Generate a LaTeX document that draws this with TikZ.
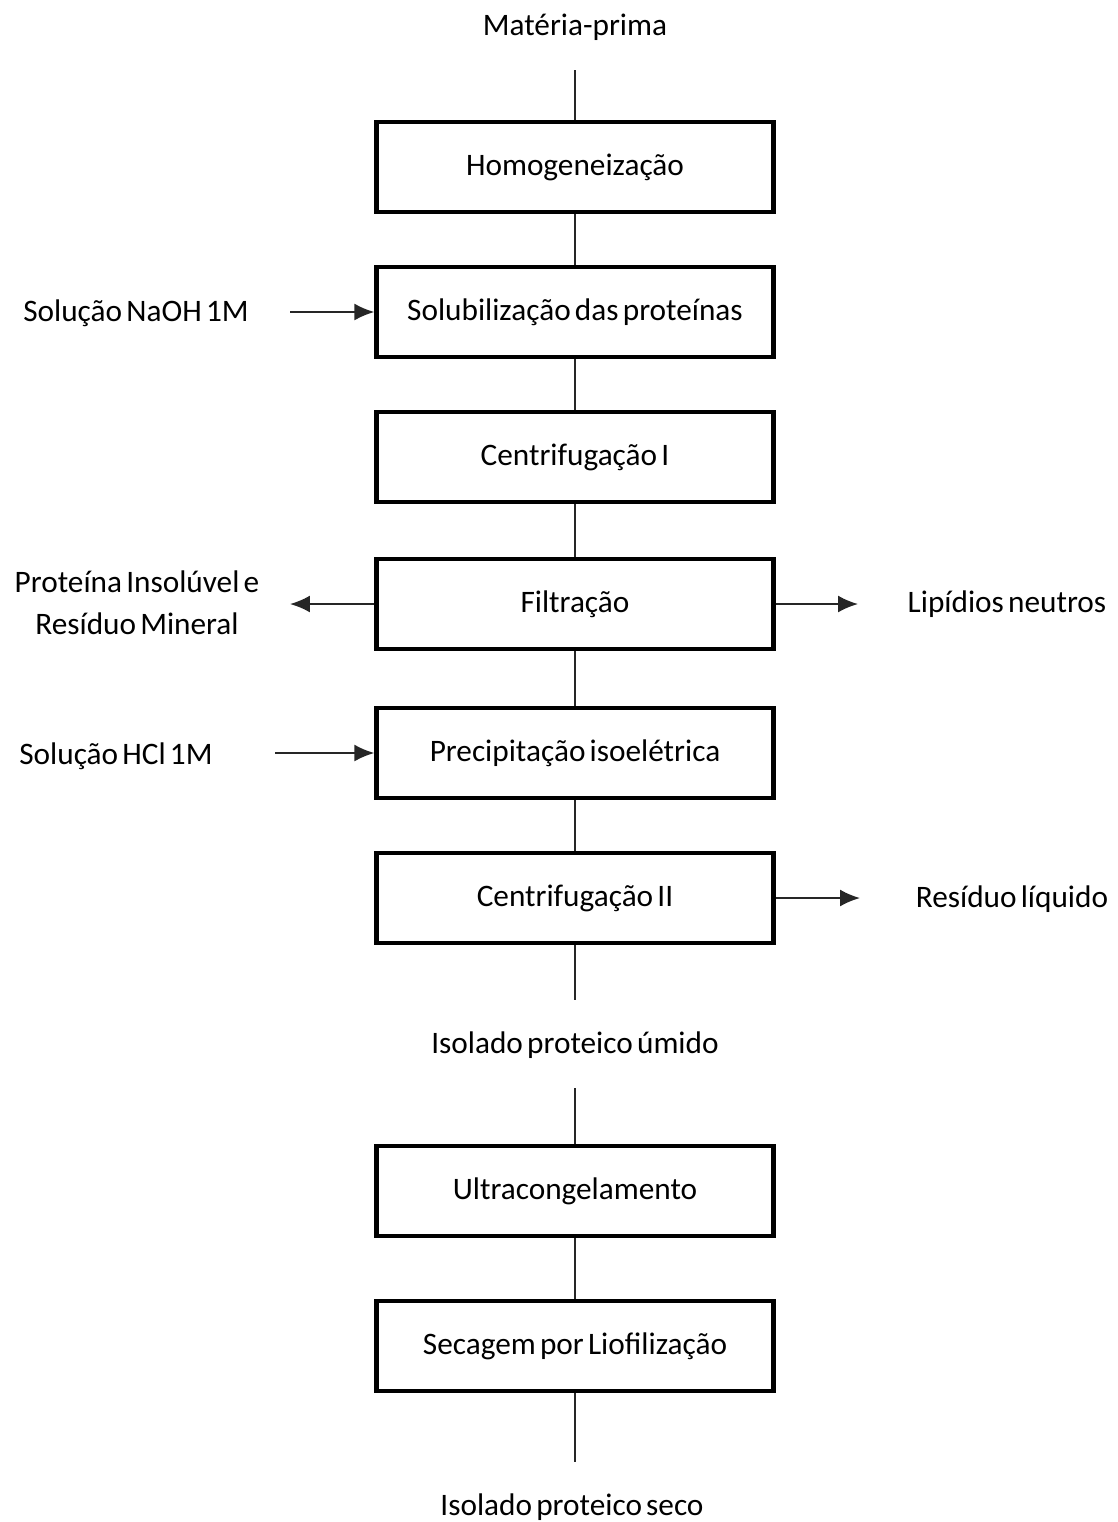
\documentclass[tikz,border=0pt]{standalone}
\usepackage{fontspec}
\setmainfont[WordSpace=0.6]{Carlito}
\usetikzlibrary{arrows.meta}
\begin{document}
\begin{tikzpicture}[x=0.02cm,y=-0.02cm,
	box/.style={draw,line width=2.5pt,minimum width=7.94cm,minimum height=1.8cm,inner sep=0pt},
	lbl/.style={align=center,inner sep=0pt},
	flow/.style={line width=1.1pt,draw=black!85},
	arr/.style={flow,-{Latex[length=0.4cm,width=0.34cm]}}]
\useasboundingbox (0,0) rectangle (1118,1522);
\fontsize{17.8}{24}\selectfont
% main line
\node[lbl] (mp) at (575,27) {Matéria-prima};
\coordinate (mpend) at (575,70);
\node[box] (homog) at (575,167) {Homogeneização};
\node[box] (solub) at (575,312) {Solubilização das proteínas};
\node[box] (centI) at (575,457) {Centrifugação I};
\node[box] (filt) at (575,604) {Filtração};
\node[box] (precip) at (575,753) {Precipitação isoelétrica};
\node[box] (centII) at (575,898) {Centrifugação II};
\coordinate (umidtop) at (575,1000);
\node[lbl] (umido) at (575,1045) {Isolado proteico úmido};
\coordinate (umidbot) at (575,1088);
\node[box] (ultra) at (575,1191) {Ultracongelamento};
\node[box] (secag) at (575,1346) {Secagem por Liofilização};
\coordinate (secoend) at (575,1462);
\node[lbl] (seco) at (572,1507) {Isolado proteico seco};
\draw[flow] (mpend) -- (homog);
\draw[flow] (homog) -- (solub);
\draw[flow] (solub) -- (centI);
\draw[flow] (centI) -- (filt);
\draw[flow] (filt) -- (precip);
\draw[flow] (precip) -- (centII);
\draw[flow] (centII) -- (umidtop);
\draw[flow] (umidbot) -- (ultra);
\draw[flow] (ultra) -- (secag);
\draw[flow] (secag) -- (secoend);
% side streams
\node[lbl] (naoh) at (136,313) {Solução NaOH 1M};
\coordinate (naohend) at (290,312);
\draw[arr] (naohend) -- (solub.west);
\node[lbl] (insol) at (137,603) {Proteína Insolúvel e\\Resíduo Mineral};
\coordinate (insolend) at (290,604);
\draw[arr] (filt.west) -- (insolend);
\node[lbl] (lipid) at (1007,604) {Lipídios neutros};
\coordinate (lipidend) at (858,604);
\draw[arr] (filt.east) -- (lipidend);
\node[lbl] (hcl) at (116,756) {Solução HCl 1M};
\coordinate (hclend) at (275,753);
\draw[arr] (hclend) -- (precip.west);
\node[lbl] (resliq) at (1012,899) {Resíduo líquido};
\coordinate (resend) at (860,898);
\draw[arr] (centII.east) -- (resend);
\end{tikzpicture}
\end{document}
